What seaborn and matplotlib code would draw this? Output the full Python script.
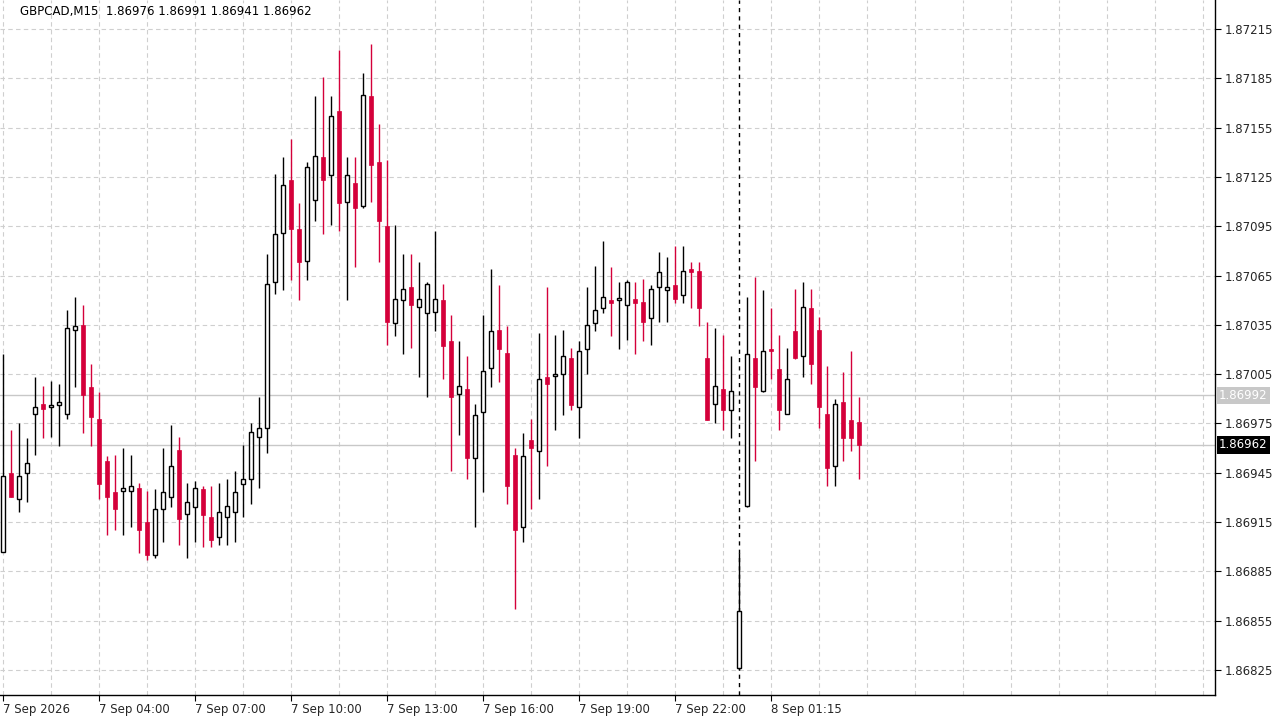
import matplotlib
matplotlib.use("Agg")
import matplotlib.pyplot as plt
import seaborn as sns
import numpy as np
import pandas as pd

opens = [86897,86945,86929,86945,86981,86987,86985,86986,86981,87032,87035,86997,86978,86952,86933,86934,86934,86936,86915,86895,
         86923,86930,86959,86920,86924,86935,86918,86906,86918,86921,86938,86941,86967,86972,87061,87091,87123,87093,87074,87111,
         87137,87126,87165,87110,87121,87107,87174,87134,87095,87036,87050,87058,87046,87042,87043,87050,87025,86993,86996,86954,
         86982,87009,87032,87018,86956,86912,86965,86958,87003,87004,87005,87015,86985,87020,87036,87045,87050,87050,87047,87051,
         87049,87039,87058,87056,87059,87053,87069,87068,87015,86987,86996,86983,86826,86925,87015,86995,87020,87008,86981,87031,
         87016,87045,87032,86981,86949,86988,86977,86976]
highs = [87017,86971,86975,86966,87003,86998,87001,86999,87044,87052,87047,87011,86994,86955,86956,86960,86956,86939,86934,86935,
         86960,86974,86967,86939,86940,86937,86937,86939,86941,86946,86962,86975,86991,87078,87127,87137,87148,87109,87134,87174,
         87186,87174,87202,87137,87137,87188,87206,87157,87135,87096,87078,87078,87073,87061,87092,87060,87041,87025,87016,86987,
         87041,87069,87059,87034,86960,86969,86978,87030,87058,87029,87032,87021,87025,87058,87071,87086,87070,87061,87062,87061,
         87063,87059,87079,87076,87083,87083,87073,87073,87037,87033,87029,87016,86896,87052,87064,87056,87045,87029,87021,87057,
         87061,87057,87040,87010,86990,87006,87019,86991]
lows = [86897,86930,86921,86927,86956,86966,86967,86961,86978,86997,86969,86961,86929,86907,86910,86907,86912,86896,86892,86893,
        86903,86924,86901,86893,86903,86900,86900,86901,86901,86903,86918,86926,86936,86957,87054,87056,87062,87050,87062,87098,
        87090,87096,87092,87050,87070,87106,87110,87073,87023,87028,87017,87021,87003,86991,87031,87002,86946,86968,86941,86912,
        86933,86997,87000,86926,86862,86903,86923,86929,86949,86971,86980,86983,86966,87005,87031,87042,87028,87020,87026,87017,
        87025,87023,87037,87037,87048,87048,87045,87034,86977,86975,86971,86966,86825,86924,86952,86994,87002,86971,86981,87014,
        87003,86999,86972,86937,86937,86952,86958,86941]
closes = [86943,86930,86943,86951,86985,86984,86986,86988,87033,87034,86992,86979,86938,86930,86923,86936,86937,86910,86895,86923,
          86933,86949,86917,86927,86936,86919,86904,86921,86925,86933,86941,86970,86972,87060,87090,87120,87093,87073,87131,87138,
          87123,87162,87109,87126,87106,87175,87132,87098,87037,87051,87057,87047,87051,87060,87051,87022,86991,86998,86954,86980,
          87007,87031,87020,86937,86910,86955,86960,87002,86999,87005,87016,86986,87019,87035,87044,87052,87048,87051,87061,87048,
          87037,87057,87067,87058,87051,87068,87067,87045,86977,86998,86983,86995,86861,87017,86997,87019,87019,86983,87002,87015,
          87046,87011,86985,86948,86987,86966,86966,86962]

tick_labels = ["7 Sep 2026", "7 Sep 04:00", "7 Sep 07:00", "7 Sep 10:00", "7 Sep 13:00",
               "7 Sep 16:00", "7 Sep 19:00", "7 Sep 22:00", "8 Sep 01:15"]
price_ticks = [1.86825, 1.86855, 1.86885, 1.86915, 1.86945, 1.86975, 1.87005,
               1.87035, 1.87065, 1.87095, 1.87125, 1.87155, 1.87185, 1.87215]
bid, ask = 1.86962, 1.86992
day_break = 92

df = pd.DataFrame({"o": opens, "h": highs, "l": lows, "c": closes}) / 1e5 + 1.0
df["i"] = np.arange(len(df))
df["up"] = df["c"] >= df["o"]

sns.set_theme(style="white")
plt.rcParams["font.family"] = ["DejaVu Sans"]

fig = plt.figure(figsize=(12.8, 7.2), dpi=100)
ax = fig.add_axes([0, 25/720, 1215/1280, 695/720])
ax.set_facecolor("white")

RED = "#D4003A"
for p in price_ticks:
    ax.axhline(p, color="#cfcfcf", lw=0.8, ls=(0, (4, 3)), zorder=0)
for gx in range(0, 152, 6):
    ax.axvline(gx, color="#cfcfcf", lw=0.8, ls=(0, (4, 3)), zorder=0)

ax.axhline(ask, color="#c8c8c8", lw=1, zorder=1)
ax.axhline(bid, color="#c8c8c8", lw=1, zorder=1)
ax.axvline(day_break, color="black", lw=1, ls=(0, (3, 3)), zorder=1)

up = df[df["up"]]
dn = df[~df["up"]]
ax.vlines(up["i"], up["l"], up["h"], color="black", lw=1, zorder=2)
ax.vlines(dn["i"], dn["l"], dn["h"], color=RED, lw=1, zorder=2)
mins = 0.000012
ax.bar(up["i"], np.maximum(up["c"] - up["o"], mins), bottom=up["o"], width=0.55,
       color="white", edgecolor="black", linewidth=1, zorder=3)
ax.bar(dn["i"], np.maximum(dn["o"] - dn["c"], mins), bottom=dn["c"], width=0.6,
       color=RED, edgecolor=RED, linewidth=0.5, zorder=3)

ax.set_xlim(-0.375, 151.5)
ax.set_ylim(1.868098, 1.872326)

ax.yaxis.tick_right()
ax.set_yticks(price_ticks)
ax.set_yticklabels([f"{p:.5f}" for p in price_ticks], fontsize=8.5)
ax.tick_params(axis="y", length=4, width=0.8, color="black", pad=3, right=True)
ax.set_xticks(range(0, 12 * len(tick_labels), 12))
ax.set_xticklabels(tick_labels, fontsize=8.5, ha="left")
ax.tick_params(axis="x", length=4, width=0.8, color="black", bottom=True, pad=2)
for s in ["left", "top"]:
    ax.spines[s].set_visible(False)
for s in ["right", "bottom"]:
    ax.spines[s].set_color("black")
    ax.spines[s].set_linewidth(1)
ax.grid(False)

ax.text(1.0 + 4/1215, ask, f"{ask:.5f}", transform=ax.get_yaxis_transform(), va="center", ha="left",
        fontsize=8.5, color="white", bbox=dict(boxstyle="square,pad=0.2", fc="#c8c8c8", ec="none"), zorder=5, clip_on=False)
ax.text(1.0 + 4/1215, bid, f"{bid:.5f}", transform=ax.get_yaxis_transform(), va="center", ha="left",
        fontsize=8.5, color="white", bbox=dict(boxstyle="square,pad=0.2", fc="black", ec="none"), zorder=5, clip_on=False)

last = df.iloc[-1]
fig.text(20/1280, 1 - 12/720, f"GBPCAD,M15  {last.o:.5f} {last.h:.5f} {last.l:.5f} {last.c:.5f}",
         fontsize=8.5, va="center", ha="left", color="black")

fig.savefig("out.png", dpi=100, facecolor="white")
